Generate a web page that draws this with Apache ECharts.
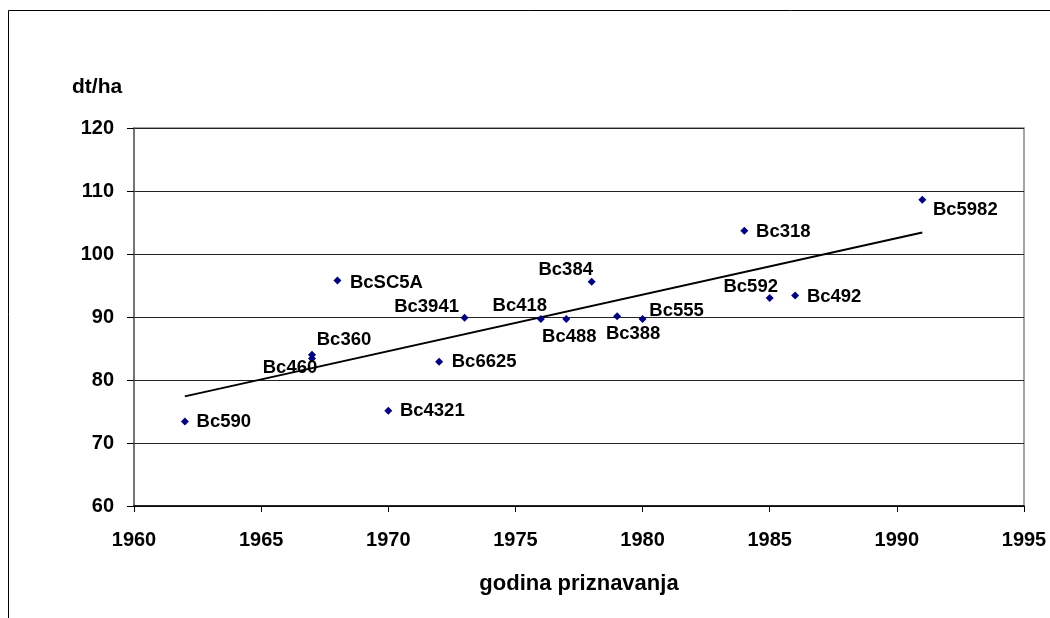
<!DOCTYPE html>
<html>
<head>
<meta charset="utf-8">
<script src="https://cdn.jsdelivr.net/npm/echarts@6/dist/echarts.min.js"></script>
<style>
  html, body { margin: 0; padding: 0; background: #fff; }
  #chart { width: 1050px; height: 618px; }
</style>
</head>
<body>
<div id="chart"></div>
<script>
// hybrid names, year of registration, yield (dt/ha)
const names = ['Bc590', 'Bc460', 'Bc360', 'BcSC5A', 'Bc4321', 'Bc6625', 'Bc3941', 'Bc418',
  'Bc488', 'Bc384', 'Bc388', 'Bc555', 'Bc318', 'Bc592', 'Bc492', 'Bc5982']
const years = [1962, 1967, 1967, 1968, 1970, 1972, 1973, 1976,
  1977, 1978, 1979, 1980, 1984, 1985, 1986, 1991]
const yields = [73.4, 83.4, 84.0, 95.8, 75.1, 82.9, 89.9, 89.7,
  89.7, 95.6, 90.1, 89.7, 103.7, 93.0, 93.4, 108.6]

// linear trend, end points
const trendYears = [1962, 1991]
const trendValues = [77.4, 103.4]

// where each label sits relative to its point (centre offset, px)
const labelShift = {
  Bc590: [39, 0], Bc460: [-22, 9], Bc360: [32, -15], BcSC5A: [49, 2],
  Bc4321: [44, 0], Bc6625: [45, 0], Bc3941: [-38, -11], Bc418: [-21, -13],
  Bc488: [3, 18], Bc384: [-26, -12], Bc388: [16, 18], Bc555: [34, -8],
  Bc318: [39, 1], Bc592: [-19, -11], Bc492: [39, 1], Bc5982: [43, 10]
}

const font = 'Liberation Sans, Arial, sans-serif'

const chart = echarts.init(document.getElementById('chart'))

chart.setOption({
  animation: false,
  backgroundColor: '#fff',
  grid: {
    left: 134, right: 26, top: 128, bottom: 112,
    show: true, borderColor: '#888', borderWidth: 1.5, backgroundColor: 'transparent'
  },
  graphic: [
    {
      type: 'rect', silent: true, z: -1,
      shape: { x: 8.5, y: 10.5, width: 1200, height: 800 },
      style: { fill: 'none', stroke: '#000', lineWidth: 1 }
    },
    {
      type: 'text', left: 72, top: 77,
      style: { text: 'dt/ha', font: 'bold 21px ' + font, fill: '#000' }
    }
  ],
  xAxis: {
    type: 'value', min: 1960, max: 1995, interval: 5,
    name: 'godina priznavanja', nameLocation: 'middle', nameGap: 67,
    nameTextStyle: { fontFamily: font, fontWeight: 'bold', fontSize: 22, color: '#000' },
    axisLine: { show: true, lineStyle: { color: '#000', width: 1.5 } },
    axisTick: { show: true, length: 6, lineStyle: { color: '#000' } },
    axisLabel: {
      margin: 24, formatter: v => String(v),
      fontFamily: font, fontWeight: 'bold', fontSize: 20, color: '#000'
    },
    splitLine: { show: false }
  },
  yAxis: {
    type: 'value', min: 60, max: 120, interval: 10,
    axisLine: { show: true, lineStyle: { color: '#666', width: 1.5 } },
    axisTick: { show: true, length: 7, lineStyle: { color: '#000' } },
    axisLabel: { margin: 20, padding: [5, 0, 0, 0], fontFamily: font, fontWeight: 'bold', fontSize: 20, color: '#000' },
    splitLine: { show: true, lineStyle: { color: '#222', width: 1 } }
  },
  series: [
    {
      type: 'line',
      data: trendYears.map((y, i) => [y, trendValues[i]]),
      symbol: 'none',
      lineStyle: { color: '#000', width: 2 },
      z: 2
    },
    {
      type: 'scatter',
      symbol: 'diamond',
      symbolSize: 8,
      itemStyle: { color: '#000080', opacity: 1 },
      z: 3,
      label: {
        show: true, position: 'inside', formatter: p => p.data.name,
        fontFamily: font, fontWeight: 'bold', fontSize: 18.5, color: '#000',
        textBorderWidth: 0, textBorderColor: 'transparent'
      },
      data: names.map((n, i) => ({
        name: n,
        value: [years[i], yields[i]],
        label: { offset: labelShift[n] }
      }))
    }
  ]
})
</script>
</body>
</html>
